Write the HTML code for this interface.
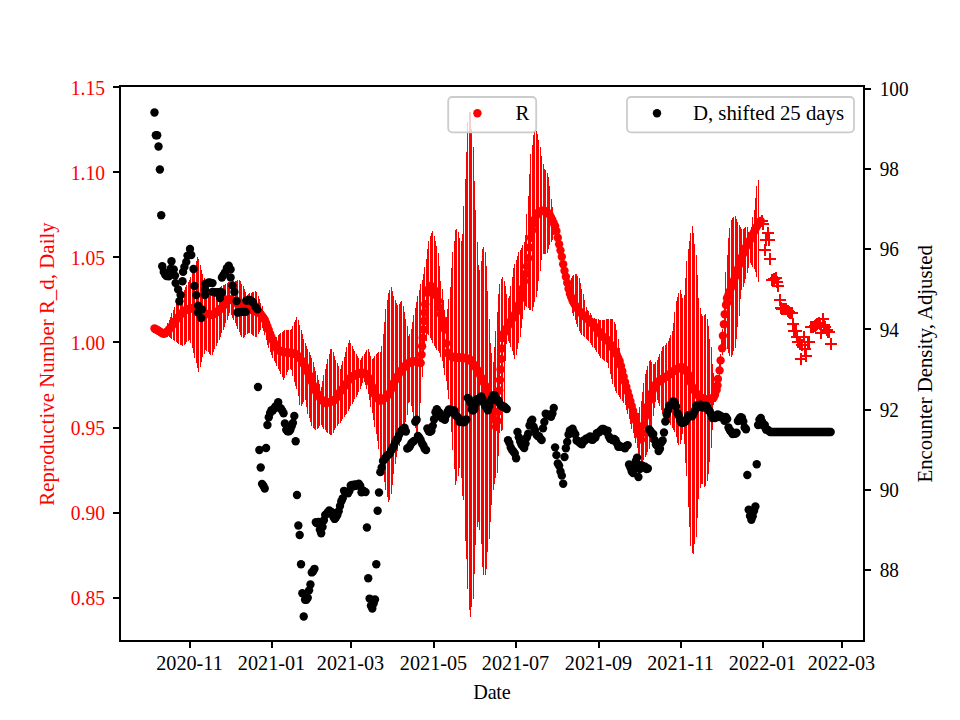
<!DOCTYPE html><html><head><meta charset="utf-8"><style>html,body{margin:0;padding:0;background:#fff;}svg{display:block;}text{font-family:"Liberation Serif",serif;font-size:20.2px;}</style></head><body>
<svg width="960" height="720" viewBox="0 0 960 720">
<rect width="960" height="720" fill="#fff"/>
<path d="M166.5 326.5V336.2M167.5 323.1V336.7M169.5 319.8V337.2M170.5 316.5V338.0M171.5 313.3V339.0M173.5 310.0V340.0M174.5 306.8V341.0M176.5 304.2V342.0M177.5 301.8V342.8M178.5 299.3V343.7M180.5 296.9V344.5M181.5 294.5V345.3M182.5 292.1V345.8M184.5 289.7V344.7M185.5 287.2V343.5M186.5 284.8V342.4M188.5 282.4V341.4M189.5 280.0V340.4M190.5 276.6V343.0M192.5 272.6V348.0M193.5 268.5V353.1M194.5 264.7V358.1M196.5 261.0V363.0M197.5 257.3V368.0M198.5 259.4V372.1M200.5 264.8V366.9M201.5 269.7V361.7M202.5 273.7V357.4M204.5 277.7V353.6M205.5 281.2V350.1M206.5 283.9V351.2M208.5 286.5V352.4M209.5 288.8V353.6M210.5 290.5V355.0M212.5 292.2V355.3M213.5 291.9V352.3M214.5 291.1V349.3M216.5 290.4V346.2M217.5 289.5V343.0M219.5 288.4V339.8M220.5 287.3V336.6M221.5 286.2V333.2M223.5 285.3V329.9M224.5 284.5V326.5M225.5 283.6V323.1M227.5 282.8V319.8M228.5 282.2V316.4M229.5 281.9V313.0M231.5 281.5V314.8M232.5 281.1V317.6M233.5 280.9V320.4M235.5 280.7V323.2M236.5 280.5V326.1M237.5 280.3V328.9M239.5 280.1V331.7M240.5 281.1V334.6M241.5 283.8V337.4M243.5 286.4V338.0M244.5 289.1V336.5M245.5 291.8V335.1M247.5 294.5V334.2M248.5 294.3V333.4M249.5 293.4V332.5M251.5 292.5V333.5M252.5 291.9V334.6M253.5 291.5V335.7M255.5 291.2V336.8M256.5 292.1V336.7M258.5 295.5V334.0M259.5 299.0V331.5M260.5 302.6V329.8M262.5 306.3V328.1M263.5 310.7V330.6M264.5 315.5V335.3M266.5 320.2V340.0M267.5 324.4V344.7M268.5 328.6V348.2M270.5 332.6V351.5M271.5 333.7V354.9M272.5 334.7V358.1M274.5 335.8V360.8M275.5 336.9V363.4M276.5 336.8V366.0M278.5 335.2V368.5M279.5 333.6V371.1M280.5 332.5V373.8M282.5 331.7V376.7M283.5 330.9V379.6M284.5 330.1V377.5M286.5 330.0V374.6M287.5 330.0V372.2M288.5 330.0V370.3M290.5 330.0V368.5M291.5 329.1V370.2M292.5 325.6V376.1M294.5 322.4V382.0M295.5 319.9V386.3M296.5 317.4V389.0M298.5 319.7V395.9M299.5 324.9V405.3M301.5 330.1V406.0M302.5 334.3V403.9M303.5 338.5V401.9M305.5 342.6V400.3M306.5 345.8V407.0M307.5 348.9V413.8M309.5 352.1V418.0M310.5 355.2V421.8M311.5 358.3V425.5M313.5 362.1V427.9M314.5 366.5V428.9M315.5 370.9V429.9M317.5 375.3V428.8M318.5 379.7V427.5M319.5 384.2V426.2M321.5 387.1V425.2M322.5 381.1V426.8M323.5 375.0V428.5M325.5 369.1V430.1M326.5 364.1V431.5M327.5 359.0V432.8M329.5 354.0V434.1M330.5 348.9V435.4M331.5 348.5V434.8M333.5 352.3V432.6M334.5 356.1V430.3M335.5 359.9V428.0M337.5 363.0V426.2M338.5 366.0V424.3M340.5 369.0V422.5M341.5 364.9V420.7M342.5 360.9V418.9M344.5 356.8V417.1M345.5 352.1V415.3M346.5 347.4V413.5M348.5 342.7V411.4M349.5 340.4V408.9M350.5 343.2V406.3M352.5 346.0V403.8M353.5 348.9V401.6M354.5 351.3V399.4M356.5 353.6V397.2M357.5 355.8V395.0M358.5 358.1V392.0M360.5 359.7V389.0M361.5 357.7V386.0M362.5 355.7V383.0M364.5 353.7V382.1M365.5 351.7V385.3M366.5 349.7V388.6M368.5 348.6V393.6M369.5 352.2V400.2M370.5 355.8V406.8M372.5 359.4V413.4M373.5 358.3V420.3M374.5 356.3V427.1M376.5 354.3V433.9M377.5 352.5V441.0M378.5 352.2V449.4M380.5 351.5V457.9M381.5 346.1V466.0M383.5 334.0V473.8M384.5 321.6V481.5M385.5 308.8V489.6M387.5 299.5V497.2M388.5 292.5V501.6M389.5 289.7V500.3M391.5 287.3V493.9M392.5 291.3V485.3M393.5 296.2V473.5M395.5 299.6V463.8M396.5 302.7V457.3M397.5 304.7V451.0M399.5 303.5V445.8M400.5 302.3V441.1M401.5 301.0V436.5M403.5 306.3V431.8M404.5 312.3V427.1M405.5 318.5V422.4M407.5 326.4V414.8M408.5 336.2V402.6M409.5 333.5V401.7M411.5 329.2V405.5M412.5 321.8V411.7M413.5 314.9V419.4M415.5 308.4V427.7M416.5 302.0V433.3M417.5 295.9V436.0M419.5 289.8V420.9M420.5 284.4V403.1M422.5 279.7V376.7M423.5 273.9V356.8M424.5 267.4V348.3M426.5 258.5V341.0M427.5 248.8V333.6M428.5 241.2V335.2M430.5 236.0V337.7M431.5 232.7V340.4M432.5 230.9V343.0M434.5 235.7V345.7M435.5 240.6V348.1M436.5 245.9V349.8M438.5 253.0V351.4M439.5 265.8V353.1M440.5 281.4V356.7M442.5 289.4V361.4M443.5 300.0V367.9M444.5 310.0V374.7M446.5 317.3V381.1M447.5 308.7V390.4M448.5 298.7V399.3M450.5 286.7V413.4M451.5 268.1V432.1M452.5 251.6V450.3M454.5 241.0V468.5M455.5 229.6V484.6M456.5 229.4V480.5M458.5 232.1V476.3M459.5 237.9V467.8M461.5 240.9V478.0M462.5 233.8V495.5M463.5 206.4V499.9M465.5 179.3V540.5M466.5 151.5V558.7M467.5 122.4V589.0M469.5 112.4V609.9M470.5 112.2V617.4M471.5 128.9V606.6M473.5 146.8V598.9M474.5 180.5V573.5M475.5 210.1V545.4M477.5 241.6V526.9M478.5 264.8V521.6M479.5 269.8V529.6M481.5 260.7V544.1M482.5 248.7V566.5M483.5 247.2V574.7M485.5 251.7V575.1M486.5 266.0V568.7M487.5 290.7V552.2M489.5 318.9V539.1M490.5 342.8V521.9M491.5 353.4V505.4M493.5 361.5V490.4M494.5 347.1V483.7M495.5 331.0V477.7M497.5 311.7V472.8M498.5 294.2V456.3M499.5 283.7V432.8M501.5 278.6V431.2M502.5 277.4V429.7M504.5 281.0V407.9M505.5 286.1V361.0M506.5 293.8V344.4M508.5 298.0V340.7M509.5 296.0V343.2M510.5 286.2V347.2M512.5 277.0V351.3M513.5 268.1V355.3M514.5 263.5V359.3M516.5 260.3V355.0M517.5 255.8V348.9M518.5 252.4V342.9M520.5 249.8V336.5M521.5 247.6V327.8M522.5 245.1V319.1M524.5 241.6V310.3M525.5 235.4V305.5M526.5 214.1V306.9M528.5 195.7V308.2M529.5 174.3V309.6M530.5 154.1V310.4M532.5 145.0V310.9M533.5 134.8V306.8M534.5 132.1V301.7M536.5 131.1V296.6M537.5 133.7V291.1M538.5 139.8V281.3M540.5 146.5V270.9M541.5 156.4V259.6M543.5 164.4V253.8M544.5 168.8V254.1M545.5 170.2V254.3M547.5 172.6V252.5M548.5 176.6V249.1M549.5 185.8V244.7M551.5 198.8V242.1M552.5 207.0V240.1M553.5 213.7V235.2M555.5 222.5V236.3M556.5 228.7V240.6M557.5 234.8V244.9M559.5 241.0V249.2M560.5 247.4V254.3M561.5 254.1V260.7M563.5 260.8V267.2M564.5 267.6V273.7M565.5 273.0V279.9M567.5 277.7V285.9M568.5 282.4V291.9M569.5 281.1V298.4M571.5 277.8V305.3M572.5 275.8V312.7M573.5 274.5V316.3M575.5 273.6V319.9M576.5 273.6V323.5M577.5 275.7V327.0M579.5 277.8V330.6M580.5 283.4V333.1M581.5 288.7V334.5M583.5 293.5V335.8M584.5 299.8V337.2M586.5 306.8V338.5M587.5 309.6V339.9M588.5 311.4V341.2M590.5 313.3V342.6M591.5 315.3V344.5M592.5 317.6V346.5M594.5 318.0V348.4M595.5 318.5V350.4M596.5 318.9V352.3M598.5 319.4V354.3M599.5 319.8V356.2M600.5 319.9V357.6M602.5 319.8V358.7M603.5 319.7V359.8M604.5 319.5V360.9M606.5 319.4V361.9M607.5 319.2V363.1M608.5 319.1V368.4M610.5 319.0V373.6M611.5 318.8V378.8M612.5 319.4V383.6M614.5 321.7V387.2M615.5 323.9V390.8M616.5 329.6V393.4M618.5 338.6V395.2M619.5 347.5V397.0M620.5 354.4V399.0M622.5 360.4V401.0M623.5 366.5V403.0M625.5 372.5V405.0M626.5 377.4V409.7M627.5 382.4V414.4M629.5 387.3V419.1M630.5 392.2V423.8M631.5 397.2V428.5M633.5 402.0V433.2M634.5 406.7V438.0M635.5 411.4V443.0M637.5 416.1V448.4M638.5 413.1V453.8M639.5 406.8V459.2M641.5 400.5V464.5M642.5 391.8V462.5M643.5 382.8V459.8M645.5 374.4V457.2M646.5 370.1V454.5M647.5 365.7V451.8M649.5 361.3V449.1M650.5 359.7V441.5M651.5 361.9V426.7M653.5 364.1V415.6M654.5 363.9V407.5M655.5 362.1V402.0M657.5 360.3V399.6M658.5 357.2V402.8M659.5 353.9V405.9M661.5 350.5V410.0M662.5 347.4V414.0M663.5 346.0V416.2M665.5 344.7V418.5M666.5 343.3V420.5M668.5 341.2V421.9M669.5 337.8V423.3M670.5 334.5V425.2M672.5 331.1V427.5M673.5 322.8V429.8M674.5 312.0V432.1M676.5 301.3V437.1M677.5 296.8V443.0M678.5 293.3V445.2M680.5 290.3V443.6M681.5 293.9V439.8M682.5 297.5V434.3M684.5 294.9V443.6M685.5 277.9V462.7M686.5 260.8V475.8M688.5 248.5V506.7M689.5 240.7V527.3M690.5 233.3V546.4M692.5 226.0V552.8M693.5 232.7V553.7M694.5 243.5V544.4M696.5 255.0V536.7M697.5 275.4V518.4M698.5 297.9V499.0M700.5 308.1V487.9M701.5 313.7V483.9M702.5 316.4V484.3M704.5 314.7V487.1M705.5 314.0V485.7M707.5 318.5V480.8M708.5 325.5V473.8M709.5 338.7V462.2M711.5 347.3V448.1M712.5 363.8V430.0M713.5 373.0V405.4M715.5 380.3V402.1M721.5 331.9V345.0M723.5 339.8V351.3M724.5 308.3V351.3M725.5 272.0V350.0M727.5 255.0V348.6M728.5 238.0V352.5M729.5 228.3V356.0M731.5 220.3V357.1M732.5 218.3V354.8M733.5 216.5V351.1M735.5 215.6V347.8M736.5 218.7V339.0M737.5 221.8V327.2M739.5 224.6V315.9M740.5 226.9V299.1M741.5 229.1V289.8M743.5 229.2V286.5M744.5 227.9V283.3M745.5 227.2V278.5M747.5 227.2V273.2M748.5 232.0V267.8M750.5 230.9V262.5M751.5 226.6V264.6M752.5 216.9V266.6M754.5 210.1V268.6M755.5 198.1V271.5M756.5 185.6V276.7M758.5 180.2V281.9M719.5 364.0V377.0M720.5 354.0V367.0M722.5 342.0V355.0M722.5 329.0V342.0" stroke="#f00" stroke-width="1" fill="none" shape-rendering="crispEdges"/>
<g fill="#f00"><circle cx="154.50" cy="328.44" r="4.2"/><circle cx="155.84" cy="329.23" r="4.2"/><circle cx="157.19" cy="330.02" r="4.2"/><circle cx="158.53" cy="330.82" r="4.2"/><circle cx="159.88" cy="331.64" r="4.2"/><circle cx="161.22" cy="332.46" r="4.2"/><circle cx="162.57" cy="333.28" r="4.2"/><circle cx="163.91" cy="333.89" r="4.2"/><circle cx="165.25" cy="332.94" r="4.2"/><circle cx="166.60" cy="331.99" r="4.2"/><circle cx="167.94" cy="331.04" r="4.2"/><circle cx="169.29" cy="329.28" r="4.2"/><circle cx="170.63" cy="327.49" r="4.2"/><circle cx="171.98" cy="325.70" r="4.2"/><circle cx="173.32" cy="323.83" r="4.2"/><circle cx="174.66" cy="321.91" r="4.2"/><circle cx="176.01" cy="319.99" r="4.2"/><circle cx="177.35" cy="318.31" r="4.2"/><circle cx="178.70" cy="316.63" r="4.2"/><circle cx="180.04" cy="314.96" r="4.2"/><circle cx="181.39" cy="313.75" r="4.2"/><circle cx="182.73" cy="312.54" r="4.2"/><circle cx="184.07" cy="311.33" r="4.2"/><circle cx="185.42" cy="310.33" r="4.2"/><circle cx="186.76" cy="309.79" r="4.2"/><circle cx="188.11" cy="309.26" r="4.2"/><circle cx="189.45" cy="308.72" r="4.2"/><circle cx="190.80" cy="308.42" r="4.2"/><circle cx="192.14" cy="308.29" r="4.2"/><circle cx="193.48" cy="308.15" r="4.2"/><circle cx="194.83" cy="308.02" r="4.2"/><circle cx="196.17" cy="308.70" r="4.2"/><circle cx="197.52" cy="309.51" r="4.2"/><circle cx="198.86" cy="310.32" r="4.2"/><circle cx="200.21" cy="311.10" r="4.2"/><circle cx="201.55" cy="311.78" r="4.2"/><circle cx="202.89" cy="312.45" r="4.2"/><circle cx="204.24" cy="313.12" r="4.2"/><circle cx="205.58" cy="313.62" r="4.2"/><circle cx="206.93" cy="313.89" r="4.2"/><circle cx="208.27" cy="314.15" r="4.2"/><circle cx="209.62" cy="314.42" r="4.2"/><circle cx="210.96" cy="314.69" r="4.2"/><circle cx="212.30" cy="314.96" r="4.2"/><circle cx="213.65" cy="314.23" r="4.2"/><circle cx="214.99" cy="313.34" r="4.2"/><circle cx="216.34" cy="312.44" r="4.2"/><circle cx="217.68" cy="311.38" r="4.2"/><circle cx="219.03" cy="310.16" r="4.2"/><circle cx="220.37" cy="308.94" r="4.2"/><circle cx="221.72" cy="307.71" r="4.2"/><circle cx="223.06" cy="306.19" r="4.2"/><circle cx="224.40" cy="304.23" r="4.2"/><circle cx="225.75" cy="302.28" r="4.2"/><circle cx="227.09" cy="300.32" r="4.2"/><circle cx="228.44" cy="299.11" r="4.2"/><circle cx="229.78" cy="299.45" r="4.2"/><circle cx="231.13" cy="299.78" r="4.2"/><circle cx="232.47" cy="300.31" r="4.2"/><circle cx="233.81" cy="301.21" r="4.2"/><circle cx="235.16" cy="302.11" r="4.2"/><circle cx="236.50" cy="303.00" r="4.2"/><circle cx="237.85" cy="303.90" r="4.2"/><circle cx="239.19" cy="304.60" r="4.2"/><circle cx="240.54" cy="305.27" r="4.2"/><circle cx="241.88" cy="305.94" r="4.2"/><circle cx="243.22" cy="306.61" r="4.2"/><circle cx="244.57" cy="307.28" r="4.2"/><circle cx="245.91" cy="307.83" r="4.2"/><circle cx="247.26" cy="308.31" r="4.2"/><circle cx="248.60" cy="308.79" r="4.2"/><circle cx="249.95" cy="309.27" r="4.2"/><circle cx="251.29" cy="309.75" r="4.2"/><circle cx="252.63" cy="310.24" r="4.2"/><circle cx="253.98" cy="310.74" r="4.2"/><circle cx="255.32" cy="311.25" r="4.2"/><circle cx="256.67" cy="311.75" r="4.2"/><circle cx="258.01" cy="312.25" r="4.2"/><circle cx="259.36" cy="312.76" r="4.2"/><circle cx="260.70" cy="313.98" r="4.2"/><circle cx="262.04" cy="315.86" r="4.2"/><circle cx="263.39" cy="317.74" r="4.2"/><circle cx="264.73" cy="319.63" r="4.2"/><circle cx="266.08" cy="322.87" r="4.2"/><circle cx="267.42" cy="326.46" r="4.2"/><circle cx="268.77" cy="330.04" r="4.2"/><circle cx="270.11" cy="333.63" r="4.2"/><circle cx="271.45" cy="337.21" r="4.2"/><circle cx="272.80" cy="340.60" r="4.2"/><circle cx="274.14" cy="343.29" r="4.2"/><circle cx="275.49" cy="345.97" r="4.2"/><circle cx="276.83" cy="348.66" r="4.2"/><circle cx="278.18" cy="350.21" r="4.2"/><circle cx="279.52" cy="350.62" r="4.2"/><circle cx="280.86" cy="351.04" r="4.2"/><circle cx="282.21" cy="351.45" r="4.2"/><circle cx="283.55" cy="351.86" r="4.2"/><circle cx="284.90" cy="352.15" r="4.2"/><circle cx="286.24" cy="352.37" r="4.2"/><circle cx="287.59" cy="352.60" r="4.2"/><circle cx="288.93" cy="352.82" r="4.2"/><circle cx="290.27" cy="353.05" r="4.2"/><circle cx="291.62" cy="353.27" r="4.2"/><circle cx="292.96" cy="353.49" r="4.2"/><circle cx="294.31" cy="353.72" r="4.2"/><circle cx="295.65" cy="353.94" r="4.2"/><circle cx="297.00" cy="355.00" r="4.2"/><circle cx="298.34" cy="356.34" r="4.2"/><circle cx="299.68" cy="357.68" r="4.2"/><circle cx="301.03" cy="359.65" r="4.2"/><circle cx="302.37" cy="361.80" r="4.2"/><circle cx="303.72" cy="363.95" r="4.2"/><circle cx="305.06" cy="366.14" r="4.2"/><circle cx="306.41" cy="369.09" r="4.2"/><circle cx="307.75" cy="372.05" r="4.2"/><circle cx="309.09" cy="375.01" r="4.2"/><circle cx="310.44" cy="378.14" r="4.2"/><circle cx="311.78" cy="381.64" r="4.2"/><circle cx="313.13" cy="385.13" r="4.2"/><circle cx="314.47" cy="388.63" r="4.2"/><circle cx="315.82" cy="391.31" r="4.2"/><circle cx="317.16" cy="393.46" r="4.2"/><circle cx="318.50" cy="395.61" r="4.2"/><circle cx="319.85" cy="397.76" r="4.2"/><circle cx="321.19" cy="399.19" r="4.2"/><circle cx="322.54" cy="400.54" r="4.2"/><circle cx="323.88" cy="401.88" r="4.2"/><circle cx="325.23" cy="402.95" r="4.2"/><circle cx="326.57" cy="402.69" r="4.2"/><circle cx="327.91" cy="402.42" r="4.2"/><circle cx="329.26" cy="402.15" r="4.2"/><circle cx="330.60" cy="401.76" r="4.2"/><circle cx="331.95" cy="401.22" r="4.2"/><circle cx="333.29" cy="400.68" r="4.2"/><circle cx="334.64" cy="400.15" r="4.2"/><circle cx="335.98" cy="398.43" r="4.2"/><circle cx="337.32" cy="396.28" r="4.2"/><circle cx="338.67" cy="394.13" r="4.2"/><circle cx="340.01" cy="391.98" r="4.2"/><circle cx="341.36" cy="390.37" r="4.2"/><circle cx="342.70" cy="388.76" r="4.2"/><circle cx="344.05" cy="387.14" r="4.2"/><circle cx="345.39" cy="385.38" r="4.2"/><circle cx="346.73" cy="383.22" r="4.2"/><circle cx="348.08" cy="381.07" r="4.2"/><circle cx="349.42" cy="378.92" r="4.2"/><circle cx="350.77" cy="377.54" r="4.2"/><circle cx="352.11" cy="376.73" r="4.2"/><circle cx="353.46" cy="375.93" r="4.2"/><circle cx="354.80" cy="375.12" r="4.2"/><circle cx="356.14" cy="374.54" r="4.2"/><circle cx="357.49" cy="374.00" r="4.2"/><circle cx="358.83" cy="373.47" r="4.2"/><circle cx="360.18" cy="373.00" r="4.2"/><circle cx="361.52" cy="373.00" r="4.2"/><circle cx="362.87" cy="373.00" r="4.2"/><circle cx="364.21" cy="373.00" r="4.2"/><circle cx="365.56" cy="373.78" r="4.2"/><circle cx="366.90" cy="375.66" r="4.2"/><circle cx="368.24" cy="377.54" r="4.2"/><circle cx="369.59" cy="379.42" r="4.2"/><circle cx="370.93" cy="382.80" r="4.2"/><circle cx="372.28" cy="386.83" r="4.2"/><circle cx="373.62" cy="390.86" r="4.2"/><circle cx="374.97" cy="394.90" r="4.2"/><circle cx="376.31" cy="396.57" r="4.2"/><circle cx="377.65" cy="398.18" r="4.2"/><circle cx="379.00" cy="399.80" r="4.2"/><circle cx="380.34" cy="400.79" r="4.2"/><circle cx="381.69" cy="399.99" r="4.2"/><circle cx="383.03" cy="399.18" r="4.2"/><circle cx="384.38" cy="398.37" r="4.2"/><circle cx="385.72" cy="397.28" r="4.2"/><circle cx="387.06" cy="395.94" r="4.2"/><circle cx="388.41" cy="394.59" r="4.2"/><circle cx="389.75" cy="393.25" r="4.2"/><circle cx="391.10" cy="389.49" r="4.2"/><circle cx="392.44" cy="385.19" r="4.2"/><circle cx="393.79" cy="382.77" r="4.2"/><circle cx="395.13" cy="380.44" r="4.2"/><circle cx="396.47" cy="378.11" r="4.2"/><circle cx="397.82" cy="375.78" r="4.2"/><circle cx="399.16" cy="373.45" r="4.2"/><circle cx="400.51" cy="371.39" r="4.2"/><circle cx="401.85" cy="369.78" r="4.2"/><circle cx="403.20" cy="368.17" r="4.2"/><circle cx="404.54" cy="366.55" r="4.2"/><circle cx="405.88" cy="365.29" r="4.2"/><circle cx="407.23" cy="364.22" r="4.2"/><circle cx="408.57" cy="363.14" r="4.2"/><circle cx="409.92" cy="362.07" r="4.2"/><circle cx="411.26" cy="361.79" r="4.2"/><circle cx="412.61" cy="361.57" r="4.2"/><circle cx="413.95" cy="361.34" r="4.2"/><circle cx="415.29" cy="361.12" r="4.2"/><circle cx="416.64" cy="361.27" r="4.2"/><circle cx="417.98" cy="361.83" r="4.2"/><circle cx="419.33" cy="362.39" r="4.2"/><circle cx="420.67" cy="362.95" r="4.2"/><circle cx="427.39" cy="292.79" r="4.2"/><circle cx="428.74" cy="289.16" r="4.2"/><circle cx="430.08" cy="286.03" r="4.2"/><circle cx="431.43" cy="286.48" r="4.2"/><circle cx="432.77" cy="286.92" r="4.2"/><circle cx="434.11" cy="289.72" r="4.2"/><circle cx="435.46" cy="293.01" r="4.2"/><circle cx="436.80" cy="296.30" r="4.2"/><circle cx="438.15" cy="301.14" r="4.2"/><circle cx="439.49" cy="307.67" r="4.2"/><circle cx="440.84" cy="314.20" r="4.2"/><circle cx="442.18" cy="319.43" r="4.2"/><circle cx="443.52" cy="324.47" r="4.2"/><circle cx="444.87" cy="329.51" r="4.2"/><circle cx="446.21" cy="343.34" r="4.2"/><circle cx="447.56" cy="352.74" r="4.2"/><circle cx="448.90" cy="354.54" r="4.2"/><circle cx="450.25" cy="356.07" r="4.2"/><circle cx="451.59" cy="356.48" r="4.2"/><circle cx="452.93" cy="356.88" r="4.2"/><circle cx="454.28" cy="357.28" r="4.2"/><circle cx="455.62" cy="357.50" r="4.2"/><circle cx="456.97" cy="357.50" r="4.2"/><circle cx="458.31" cy="357.50" r="4.2"/><circle cx="459.66" cy="357.50" r="4.2"/><circle cx="461.00" cy="357.60" r="4.2"/><circle cx="462.34" cy="357.73" r="4.2"/><circle cx="463.69" cy="357.87" r="4.2"/><circle cx="465.03" cy="358.01" r="4.2"/><circle cx="466.38" cy="358.41" r="4.2"/><circle cx="467.72" cy="358.82" r="4.2"/><circle cx="469.07" cy="359.22" r="4.2"/><circle cx="470.41" cy="360.07" r="4.2"/><circle cx="471.75" cy="361.96" r="4.2"/><circle cx="473.10" cy="363.84" r="4.2"/><circle cx="474.44" cy="365.72" r="4.2"/><circle cx="475.79" cy="367.60" r="4.2"/><circle cx="477.13" cy="369.48" r="4.2"/><circle cx="478.48" cy="371.95" r="4.2"/><circle cx="479.82" cy="374.64" r="4.2"/><circle cx="481.16" cy="377.33" r="4.2"/><circle cx="482.51" cy="380.02" r="4.2"/><circle cx="483.85" cy="382.71" r="4.2"/><circle cx="485.20" cy="385.59" r="4.2"/><circle cx="486.54" cy="389.63" r="4.2"/><circle cx="487.89" cy="393.66" r="4.2"/><circle cx="489.23" cy="397.69" r="4.2"/><circle cx="490.57" cy="402.30" r="4.2"/><circle cx="491.92" cy="407.68" r="4.2"/><circle cx="493.26" cy="413.32" r="4.2"/><circle cx="494.61" cy="420.04" r="4.2"/><circle cx="495.95" cy="426.76" r="4.2"/><circle cx="504.02" cy="332.96" r="4.2"/><circle cx="505.36" cy="330.38" r="4.2"/><circle cx="506.71" cy="328.10" r="4.2"/><circle cx="508.05" cy="325.81" r="4.2"/><circle cx="509.40" cy="323.53" r="4.2"/><circle cx="510.74" cy="321.27" r="4.2"/><circle cx="512.08" cy="319.03" r="4.2"/><circle cx="513.43" cy="316.79" r="4.2"/><circle cx="514.77" cy="314.55" r="4.2"/><circle cx="516.12" cy="312.31" r="4.2"/><circle cx="517.46" cy="310.06" r="4.2"/><circle cx="518.81" cy="304.78" r="4.2"/><circle cx="520.15" cy="299.40" r="4.2"/><circle cx="521.49" cy="294.02" r="4.2"/><circle cx="522.84" cy="288.24" r="4.2"/><circle cx="524.18" cy="281.25" r="4.2"/><circle cx="525.53" cy="274.01" r="4.2"/><circle cx="526.87" cy="266.40" r="4.2"/><circle cx="528.22" cy="258.28" r="4.2"/><circle cx="529.56" cy="247.52" r="4.2"/><circle cx="530.90" cy="237.74" r="4.2"/><circle cx="532.25" cy="230.21" r="4.2"/><circle cx="533.59" cy="223.87" r="4.2"/><circle cx="534.94" cy="219.03" r="4.2"/><circle cx="536.28" cy="215.59" r="4.2"/><circle cx="537.63" cy="213.17" r="4.2"/><circle cx="538.97" cy="212.02" r="4.2"/><circle cx="540.31" cy="211.42" r="4.2"/><circle cx="541.66" cy="211.06" r="4.2"/><circle cx="543.00" cy="210.70" r="4.2"/><circle cx="544.35" cy="210.78" r="4.2"/><circle cx="545.69" cy="211.40" r="4.2"/><circle cx="547.04" cy="212.04" r="4.2"/><circle cx="548.38" cy="213.38" r="4.2"/><circle cx="549.72" cy="214.72" r="4.2"/><circle cx="551.07" cy="217.35" r="4.2"/><circle cx="552.41" cy="220.31" r="4.2"/><circle cx="553.76" cy="223.27" r="4.2"/><circle cx="555.10" cy="226.32" r="4.2"/><circle cx="556.45" cy="230.98" r="4.2"/><circle cx="557.79" cy="237.70" r="4.2"/><circle cx="559.13" cy="244.25" r="4.2"/><circle cx="560.48" cy="250.36" r="4.2"/><circle cx="561.82" cy="256.79" r="4.2"/><circle cx="563.17" cy="264.26" r="4.2"/><circle cx="564.51" cy="270.84" r="4.2"/><circle cx="565.86" cy="276.74" r="4.2"/><circle cx="567.20" cy="282.68" r="4.2"/><circle cx="568.54" cy="288.68" r="4.2"/><circle cx="569.89" cy="293.75" r="4.2"/><circle cx="571.23" cy="297.21" r="4.2"/><circle cx="572.58" cy="300.66" r="4.2"/><circle cx="573.92" cy="303.31" r="4.2"/><circle cx="575.27" cy="305.45" r="4.2"/><circle cx="576.61" cy="307.58" r="4.2"/><circle cx="577.95" cy="309.51" r="4.2"/><circle cx="579.30" cy="311.00" r="4.2"/><circle cx="580.64" cy="312.49" r="4.2"/><circle cx="581.99" cy="313.99" r="4.2"/><circle cx="583.33" cy="315.21" r="4.2"/><circle cx="584.68" cy="316.43" r="4.2"/><circle cx="586.02" cy="317.65" r="4.2"/><circle cx="587.36" cy="318.88" r="4.2"/><circle cx="588.71" cy="320.07" r="4.2"/><circle cx="590.05" cy="321.27" r="4.2"/><circle cx="591.40" cy="322.46" r="4.2"/><circle cx="592.74" cy="323.94" r="4.2"/><circle cx="594.09" cy="325.66" r="4.2"/><circle cx="595.43" cy="327.37" r="4.2"/><circle cx="596.77" cy="329.08" r="4.2"/><circle cx="598.12" cy="330.83" r="4.2"/><circle cx="599.46" cy="332.62" r="4.2"/><circle cx="600.81" cy="334.41" r="4.2"/><circle cx="602.15" cy="336.11" r="4.2"/><circle cx="603.50" cy="337.09" r="4.2"/><circle cx="604.84" cy="338.07" r="4.2"/><circle cx="606.18" cy="339.04" r="4.2"/><circle cx="607.53" cy="340.05" r="4.2"/><circle cx="608.87" cy="342.14" r="4.2"/><circle cx="610.22" cy="344.23" r="4.2"/><circle cx="611.56" cy="346.32" r="4.2"/><circle cx="612.91" cy="348.36" r="4.2"/><circle cx="614.25" cy="350.38" r="4.2"/><circle cx="615.59" cy="352.39" r="4.2"/><circle cx="616.94" cy="355.11" r="4.2"/><circle cx="618.28" cy="358.14" r="4.2"/><circle cx="619.63" cy="361.16" r="4.2"/><circle cx="620.97" cy="365.89" r="4.2"/><circle cx="622.32" cy="371.27" r="4.2"/><circle cx="623.66" cy="376.64" r="4.2"/><circle cx="625.00" cy="382.02" r="4.2"/><circle cx="626.35" cy="386.86" r="4.2"/><circle cx="627.69" cy="391.70" r="4.2"/><circle cx="629.04" cy="396.54" r="4.2"/><circle cx="630.38" cy="401.34" r="4.2"/><circle cx="631.73" cy="406.04" r="4.2"/><circle cx="633.07" cy="410.75" r="4.2"/><circle cx="634.42" cy="415.45" r="4.2"/><circle cx="635.76" cy="420.66" r="4.2"/><circle cx="637.10" cy="426.27" r="4.2"/><circle cx="638.45" cy="431.38" r="4.2"/><circle cx="639.79" cy="435.51" r="4.2"/><circle cx="641.14" cy="439.65" r="4.2"/><circle cx="642.48" cy="432.97" r="4.2"/><circle cx="643.83" cy="424.84" r="4.2"/><circle cx="645.17" cy="416.82" r="4.2"/><circle cx="646.51" cy="411.44" r="4.2"/><circle cx="647.86" cy="406.07" r="4.2"/><circle cx="649.20" cy="400.69" r="4.2"/><circle cx="650.55" cy="396.13" r="4.2"/><circle cx="651.89" cy="392.77" r="4.2"/><circle cx="653.24" cy="389.41" r="4.2"/><circle cx="654.58" cy="386.05" r="4.2"/><circle cx="655.92" cy="384.08" r="4.2"/><circle cx="657.27" cy="382.73" r="4.2"/><circle cx="658.61" cy="381.39" r="4.2"/><circle cx="659.96" cy="380.04" r="4.2"/><circle cx="661.30" cy="379.35" r="4.2"/><circle cx="662.65" cy="378.68" r="4.2"/><circle cx="663.99" cy="378.01" r="4.2"/><circle cx="665.33" cy="377.27" r="4.2"/><circle cx="666.68" cy="376.33" r="4.2"/><circle cx="668.02" cy="375.38" r="4.2"/><circle cx="669.37" cy="374.44" r="4.2"/><circle cx="670.71" cy="373.43" r="4.2"/><circle cx="672.06" cy="372.36" r="4.2"/><circle cx="673.40" cy="371.28" r="4.2"/><circle cx="674.74" cy="370.20" r="4.2"/><circle cx="676.09" cy="369.46" r="4.2"/><circle cx="677.43" cy="368.78" r="4.2"/><circle cx="678.78" cy="368.11" r="4.2"/><circle cx="680.12" cy="367.50" r="4.2"/><circle cx="681.47" cy="367.50" r="4.2"/><circle cx="682.81" cy="367.50" r="4.2"/><circle cx="684.15" cy="368.78" r="4.2"/><circle cx="685.50" cy="370.28" r="4.2"/><circle cx="686.84" cy="371.77" r="4.2"/><circle cx="688.19" cy="374.56" r="4.2"/><circle cx="689.53" cy="378.59" r="4.2"/><circle cx="690.88" cy="382.63" r="4.2"/><circle cx="692.22" cy="386.66" r="4.2"/><circle cx="693.56" cy="389.17" r="4.2"/><circle cx="694.91" cy="391.28" r="4.2"/><circle cx="696.25" cy="393.28" r="4.2"/><circle cx="697.60" cy="394.80" r="4.2"/><circle cx="698.94" cy="396.31" r="4.2"/><circle cx="700.29" cy="397.60" r="4.2"/><circle cx="701.63" cy="398.04" r="4.2"/><circle cx="702.97" cy="398.49" r="4.2"/><circle cx="704.32" cy="398.94" r="4.2"/><circle cx="705.66" cy="399.39" r="4.2"/><circle cx="707.01" cy="399.84" r="4.2"/><circle cx="708.35" cy="399.76" r="4.2"/><circle cx="709.70" cy="399.37" r="4.2"/><circle cx="711.04" cy="398.98" r="4.2"/><circle cx="712.38" cy="398.24" r="4.2"/><circle cx="713.73" cy="397.51" r="4.2"/><circle cx="715.07" cy="394.85" r="4.2"/><circle cx="727.17" cy="302.69" r="4.2"/><circle cx="728.52" cy="294.62" r="4.2"/><circle cx="729.86" cy="291.04" r="4.2"/><circle cx="731.20" cy="287.46" r="4.2"/><circle cx="732.55" cy="283.93" r="4.2"/><circle cx="733.89" cy="280.41" r="4.2"/><circle cx="735.24" cy="276.79" r="4.2"/><circle cx="736.58" cy="272.75" r="4.2"/><circle cx="737.93" cy="268.72" r="4.2"/><circle cx="739.27" cy="264.69" r="4.2"/><circle cx="740.61" cy="260.66" r="4.2"/><circle cx="741.96" cy="256.62" r="4.2"/><circle cx="743.30" cy="253.16" r="4.2"/><circle cx="744.65" cy="250.09" r="4.2"/><circle cx="745.99" cy="247.02" r="4.2"/><circle cx="747.34" cy="244.66" r="4.2"/><circle cx="748.68" cy="242.31" r="4.2"/><circle cx="750.02" cy="239.95" r="4.2"/><circle cx="751.37" cy="237.26" r="4.2"/><circle cx="752.71" cy="234.57" r="4.2"/><circle cx="754.06" cy="231.88" r="4.2"/><circle cx="755.40" cy="229.20" r="4.2"/><circle cx="756.75" cy="226.64" r="4.2"/><circle cx="758.09" cy="224.31" r="4.2"/><circle cx="759.44" cy="221.98" r="4.2"/><circle cx="760.78" cy="221.00" r="4.2"/><circle cx="502.20" cy="338.00" r="4.2"/><circle cx="501.60" cy="348.50" r="4.2"/><circle cx="501.00" cy="359.00" r="4.2"/><circle cx="500.50" cy="369.50" r="4.2"/><circle cx="499.90" cy="380.00" r="4.2"/><circle cx="499.30" cy="390.50" r="4.2"/><circle cx="498.80" cy="401.00" r="4.2"/><circle cx="498.20" cy="411.50" r="4.2"/><circle cx="497.60" cy="421.00" r="4.2"/><circle cx="421.60" cy="354.60" r="4.2"/><circle cx="422.10" cy="346.20" r="4.2"/><circle cx="422.70" cy="337.80" r="4.2"/><circle cx="423.30" cy="329.40" r="4.2"/><circle cx="423.90" cy="321.00" r="4.2"/><circle cx="424.50" cy="312.60" r="4.2"/><circle cx="425.20" cy="304.20" r="4.2"/><circle cx="716.70" cy="390.00" r="4.2"/><circle cx="717.50" cy="385.40" r="4.2"/><circle cx="717.90" cy="379.00" r="4.2"/><circle cx="719.60" cy="370.40" r="4.2"/><circle cx="720.60" cy="360.40" r="4.2"/><circle cx="722.20" cy="348.30" r="4.2"/><circle cx="722.90" cy="335.80" r="4.2"/><circle cx="723.90" cy="324.20" r="4.2"/><circle cx="724.70" cy="314.20" r="4.2"/><circle cx="726.00" cy="305.00" r="4.2"/><circle cx="727.00" cy="298.30" r="4.2"/></g>
<path d="M756 221H768M762 215V227M757 224H769M763 218V230M759 250H771M765 244V256M760 240H772M766 234V246M762 233H774M768 227V239M763 240H775M769 234V246M764 259H776M770 253V265M766 280H778M772 274V286M767 280H779M773 274V286M768 279H780M774 273V285M770 278H782M776 272V284M771 282H783M777 276V288M772 286H784M778 280V292M774 300H786M780 294V306M775 308H787M781 302V314M776 309H788M782 303V315M778 309H790M784 303V315M779 309H791M785 303V315M780 309H792M786 303V315M782 311H794M788 305V317M783 312H795M789 306V318M784 313H796M790 307V319M786 313H798M792 307V319M787 324H799M793 318V330M788 331H800M794 325V337M790 331H802M796 325V337M791 337H803M797 331V343M792 342H804M798 336V348M794 342H806M800 336V348M795 359H807M801 353V365M796 345H808M802 339V351M798 337H810M804 331V343M799 349H811M805 343V355M800 356H812M806 350V362M802 342H814M808 336V348M803 342H815M809 336V348M805 327H817M811 321V333M806 327H818M812 321V333M807 327H819M813 321V333M809 326H821M815 320V332M810 325H822M816 319V331M811 324H823M817 318V330M813 323H825M819 317V329M814 324H826M820 318V330M815 333H827M821 327V339M817 319H829M823 313V325M818 325H830M824 319V331M819 327H831M825 321V333M821 330H833M827 324V336M822 332H834M828 326V338M823 332H835M829 326V338M825 344H837M831 338V350" stroke="#f00" stroke-width="2" fill="none" shape-rendering="crispEdges"/>
<g fill="#000"><circle cx="162.25" cy="266.25" r="4.2"/><circle cx="163.75" cy="271.90" r="4.2"/><circle cx="165.10" cy="274.50" r="4.2"/><circle cx="166.50" cy="276.00" r="4.2"/><circle cx="168.75" cy="276.25" r="4.2"/><circle cx="170.60" cy="268.75" r="4.2"/><circle cx="171.50" cy="261.25" r="4.2"/><circle cx="173.75" cy="269.40" r="4.2"/><circle cx="175.00" cy="275.60" r="4.2"/><circle cx="175.60" cy="283.10" r="4.2"/><circle cx="178.10" cy="289.40" r="4.2"/><circle cx="180.60" cy="295.00" r="4.2"/><circle cx="179.40" cy="301.25" r="4.2"/><circle cx="182.50" cy="281.25" r="4.2"/><circle cx="183.10" cy="271.90" r="4.2"/><circle cx="184.40" cy="266.90" r="4.2"/><circle cx="186.25" cy="261.90" r="4.2"/><circle cx="187.50" cy="255.60" r="4.2"/><circle cx="191.25" cy="255.00" r="4.2"/><circle cx="190.00" cy="249.00" r="4.2"/><circle cx="193.50" cy="269.00" r="4.2"/><circle cx="194.40" cy="286.00" r="4.2"/><circle cx="196.25" cy="295.00" r="4.2"/><circle cx="198.10" cy="305.60" r="4.2"/><circle cx="201.90" cy="309.40" r="4.2"/><circle cx="198.10" cy="312.50" r="4.2"/><circle cx="201.25" cy="318.10" r="4.2"/><circle cx="205.00" cy="295.00" r="4.2"/><circle cx="205.00" cy="289.40" r="4.2"/><circle cx="205.60" cy="283.75" r="4.2"/><circle cx="208.75" cy="282.50" r="4.2"/><circle cx="210.50" cy="282.80" r="4.2"/><circle cx="212.50" cy="283.10" r="4.2"/><circle cx="212.50" cy="291.90" r="4.2"/><circle cx="214.50" cy="292.20" r="4.2"/><circle cx="216.25" cy="292.50" r="4.2"/><circle cx="218.00" cy="292.20" r="4.2"/><circle cx="220.00" cy="291.90" r="4.2"/><circle cx="221.90" cy="292.50" r="4.2"/><circle cx="220.00" cy="298.10" r="4.2"/><circle cx="221.90" cy="277.50" r="4.2"/><circle cx="223.50" cy="275.00" r="4.2"/><circle cx="225.00" cy="272.50" r="4.2"/><circle cx="226.90" cy="268.10" r="4.2"/><circle cx="228.75" cy="265.60" r="4.2"/><circle cx="230.60" cy="269.40" r="4.2"/><circle cx="230.60" cy="277.50" r="4.2"/><circle cx="232.50" cy="285.60" r="4.2"/><circle cx="234.40" cy="291.90" r="4.2"/><circle cx="236.60" cy="301.00" r="4.2"/><circle cx="237.50" cy="312.50" r="4.2"/><circle cx="239.50" cy="312.20" r="4.2"/><circle cx="241.25" cy="311.90" r="4.2"/><circle cx="243.50" cy="311.90" r="4.2"/><circle cx="245.60" cy="311.90" r="4.2"/><circle cx="246.25" cy="300.60" r="4.2"/><circle cx="248.00" cy="300.30" r="4.2"/><circle cx="250.00" cy="300.00" r="4.2"/><circle cx="251.50" cy="301.00" r="4.2"/><circle cx="253.10" cy="302.50" r="4.2"/><circle cx="255.60" cy="306.90" r="4.2"/><circle cx="257.50" cy="309.40" r="4.2"/><circle cx="154.50" cy="112.50" r="4.2"/><circle cx="155.84" cy="135.30" r="4.2"/><circle cx="157.19" cy="135.30" r="4.2"/><circle cx="158.53" cy="146.50" r="4.2"/><circle cx="159.88" cy="169.50" r="4.2"/><circle cx="161.22" cy="215.30" r="4.2"/><circle cx="258.01" cy="387.00" r="4.2"/><circle cx="259.36" cy="450.00" r="4.2"/><circle cx="260.70" cy="467.50" r="4.2"/><circle cx="262.04" cy="483.87" r="4.2"/><circle cx="263.39" cy="485.78" r="4.2"/><circle cx="264.73" cy="488.53" r="4.2"/><circle cx="266.08" cy="448.00" r="4.2"/><circle cx="267.42" cy="425.00" r="4.2"/><circle cx="268.77" cy="417.34" r="4.2"/><circle cx="270.11" cy="412.99" r="4.2"/><circle cx="271.45" cy="410.32" r="4.2"/><circle cx="272.80" cy="410.58" r="4.2"/><circle cx="274.14" cy="408.35" r="4.2"/><circle cx="275.49" cy="406.57" r="4.2"/><circle cx="276.83" cy="407.10" r="4.2"/><circle cx="278.18" cy="402.20" r="4.2"/><circle cx="279.52" cy="407.69" r="4.2"/><circle cx="280.86" cy="408.44" r="4.2"/><circle cx="282.21" cy="410.64" r="4.2"/><circle cx="283.55" cy="413.23" r="4.2"/><circle cx="284.90" cy="423.49" r="4.2"/><circle cx="286.24" cy="429.86" r="4.2"/><circle cx="287.59" cy="431.26" r="4.2"/><circle cx="288.93" cy="431.36" r="4.2"/><circle cx="290.27" cy="429.95" r="4.2"/><circle cx="291.62" cy="426.30" r="4.2"/><circle cx="292.96" cy="422.86" r="4.2"/><circle cx="294.31" cy="415.96" r="4.2"/><circle cx="295.65" cy="441.25" r="4.2"/><circle cx="297.00" cy="495.00" r="4.2"/><circle cx="298.34" cy="525.45" r="4.2"/><circle cx="299.68" cy="535.00" r="4.2"/><circle cx="301.03" cy="564.25" r="4.2"/><circle cx="302.37" cy="593.25" r="4.2"/><circle cx="303.72" cy="616.50" r="4.2"/><circle cx="305.06" cy="599.81" r="4.2"/><circle cx="306.41" cy="599.86" r="4.2"/><circle cx="307.75" cy="597.79" r="4.2"/><circle cx="309.09" cy="590.36" r="4.2"/><circle cx="310.44" cy="584.56" r="4.2"/><circle cx="311.78" cy="572.41" r="4.2"/><circle cx="313.13" cy="571.32" r="4.2"/><circle cx="314.47" cy="568.83" r="4.2"/><circle cx="315.82" cy="522.17" r="4.2"/><circle cx="317.16" cy="523.32" r="4.2"/><circle cx="318.50" cy="521.90" r="4.2"/><circle cx="319.85" cy="529.70" r="4.2"/><circle cx="321.19" cy="533.21" r="4.2"/><circle cx="322.54" cy="526.92" r="4.2"/><circle cx="323.88" cy="520.34" r="4.2"/><circle cx="325.23" cy="514.96" r="4.2"/><circle cx="326.57" cy="513.87" r="4.2"/><circle cx="327.91" cy="512.21" r="4.2"/><circle cx="329.26" cy="510.52" r="4.2"/><circle cx="330.60" cy="512.28" r="4.2"/><circle cx="331.95" cy="512.19" r="4.2"/><circle cx="333.29" cy="516.67" r="4.2"/><circle cx="334.64" cy="518.92" r="4.2"/><circle cx="335.98" cy="517.19" r="4.2"/><circle cx="337.32" cy="515.06" r="4.2"/><circle cx="338.67" cy="511.31" r="4.2"/><circle cx="340.01" cy="506.07" r="4.2"/><circle cx="341.36" cy="501.28" r="4.2"/><circle cx="342.70" cy="498.33" r="4.2"/><circle cx="344.05" cy="490.84" r="4.2"/><circle cx="345.39" cy="492.82" r="4.2"/><circle cx="346.73" cy="492.28" r="4.2"/><circle cx="348.08" cy="493.19" r="4.2"/><circle cx="349.42" cy="490.73" r="4.2"/><circle cx="350.77" cy="485.43" r="4.2"/><circle cx="352.11" cy="484.88" r="4.2"/><circle cx="353.46" cy="486.34" r="4.2"/><circle cx="354.80" cy="484.46" r="4.2"/><circle cx="356.14" cy="485.79" r="4.2"/><circle cx="357.49" cy="484.36" r="4.2"/><circle cx="358.83" cy="483.81" r="4.2"/><circle cx="360.18" cy="485.83" r="4.2"/><circle cx="361.52" cy="492.31" r="4.2"/><circle cx="362.87" cy="490.45" r="4.2"/><circle cx="364.21" cy="491.33" r="4.2"/><circle cx="365.56" cy="492.11" r="4.2"/><circle cx="366.90" cy="527.50" r="4.2"/><circle cx="368.24" cy="578.25" r="4.2"/><circle cx="369.59" cy="598.59" r="4.2"/><circle cx="370.93" cy="605.80" r="4.2"/><circle cx="372.28" cy="608.61" r="4.2"/><circle cx="373.62" cy="603.47" r="4.2"/><circle cx="374.97" cy="599.56" r="4.2"/><circle cx="376.31" cy="564.25" r="4.2"/><circle cx="377.65" cy="510.75" r="4.2"/><circle cx="379.00" cy="492.50" r="4.2"/><circle cx="380.34" cy="472.15" r="4.2"/><circle cx="381.69" cy="467.58" r="4.2"/><circle cx="383.03" cy="461.00" r="4.2"/><circle cx="384.38" cy="459.21" r="4.2"/><circle cx="385.72" cy="457.53" r="4.2"/><circle cx="387.06" cy="455.65" r="4.2"/><circle cx="388.41" cy="454.86" r="4.2"/><circle cx="389.75" cy="453.62" r="4.2"/><circle cx="391.10" cy="450.83" r="4.2"/><circle cx="392.44" cy="448.29" r="4.2"/><circle cx="393.79" cy="446.28" r="4.2"/><circle cx="395.13" cy="442.52" r="4.2"/><circle cx="396.47" cy="439.79" r="4.2"/><circle cx="397.82" cy="438.49" r="4.2"/><circle cx="399.16" cy="434.86" r="4.2"/><circle cx="400.51" cy="431.90" r="4.2"/><circle cx="401.85" cy="430.54" r="4.2"/><circle cx="403.20" cy="429.03" r="4.2"/><circle cx="404.54" cy="427.78" r="4.2"/><circle cx="405.88" cy="431.44" r="4.2"/><circle cx="407.23" cy="448.51" r="4.2"/><circle cx="408.57" cy="447.78" r="4.2"/><circle cx="409.92" cy="446.16" r="4.2"/><circle cx="411.26" cy="443.35" r="4.2"/><circle cx="412.61" cy="442.14" r="4.2"/><circle cx="413.95" cy="441.07" r="4.2"/><circle cx="415.29" cy="421.73" r="4.2"/><circle cx="416.64" cy="419.67" r="4.2"/><circle cx="417.98" cy="435.94" r="4.2"/><circle cx="419.33" cy="437.61" r="4.2"/><circle cx="420.67" cy="440.13" r="4.2"/><circle cx="422.02" cy="443.46" r="4.2"/><circle cx="423.36" cy="445.54" r="4.2"/><circle cx="424.70" cy="448.71" r="4.2"/><circle cx="426.05" cy="449.99" r="4.2"/><circle cx="427.39" cy="428.57" r="4.2"/><circle cx="428.74" cy="431.36" r="4.2"/><circle cx="430.08" cy="431.80" r="4.2"/><circle cx="431.43" cy="430.82" r="4.2"/><circle cx="432.77" cy="425.85" r="4.2"/><circle cx="434.11" cy="419.23" r="4.2"/><circle cx="435.46" cy="412.21" r="4.2"/><circle cx="436.80" cy="409.12" r="4.2"/><circle cx="438.15" cy="411.42" r="4.2"/><circle cx="439.49" cy="412.79" r="4.2"/><circle cx="440.84" cy="416.81" r="4.2"/><circle cx="442.18" cy="418.23" r="4.2"/><circle cx="443.52" cy="417.23" r="4.2"/><circle cx="444.87" cy="419.68" r="4.2"/><circle cx="446.21" cy="415.27" r="4.2"/><circle cx="447.56" cy="411.75" r="4.2"/><circle cx="448.90" cy="409.49" r="4.2"/><circle cx="450.25" cy="409.75" r="4.2"/><circle cx="451.59" cy="412.32" r="4.2"/><circle cx="452.93" cy="410.46" r="4.2"/><circle cx="454.28" cy="410.49" r="4.2"/><circle cx="455.62" cy="415.37" r="4.2"/><circle cx="456.97" cy="416.54" r="4.2"/><circle cx="458.31" cy="417.85" r="4.2"/><circle cx="459.66" cy="421.97" r="4.2"/><circle cx="461.00" cy="420.30" r="4.2"/><circle cx="462.34" cy="421.43" r="4.2"/><circle cx="463.69" cy="422.38" r="4.2"/><circle cx="465.03" cy="421.27" r="4.2"/><circle cx="466.38" cy="419.46" r="4.2"/><circle cx="467.72" cy="397.89" r="4.2"/><circle cx="469.07" cy="399.30" r="4.2"/><circle cx="470.41" cy="402.98" r="4.2"/><circle cx="471.75" cy="409.54" r="4.2"/><circle cx="473.10" cy="410.64" r="4.2"/><circle cx="474.44" cy="408.97" r="4.2"/><circle cx="475.79" cy="403.41" r="4.2"/><circle cx="477.13" cy="399.08" r="4.2"/><circle cx="478.48" cy="399.08" r="4.2"/><circle cx="479.82" cy="398.27" r="4.2"/><circle cx="481.16" cy="396.36" r="4.2"/><circle cx="482.51" cy="399.38" r="4.2"/><circle cx="483.85" cy="402.92" r="4.2"/><circle cx="485.20" cy="406.13" r="4.2"/><circle cx="486.54" cy="407.78" r="4.2"/><circle cx="487.89" cy="410.31" r="4.2"/><circle cx="489.23" cy="406.23" r="4.2"/><circle cx="490.57" cy="401.56" r="4.2"/><circle cx="491.92" cy="398.06" r="4.2"/><circle cx="493.26" cy="395.47" r="4.2"/><circle cx="494.61" cy="395.16" r="4.2"/><circle cx="495.95" cy="398.34" r="4.2"/><circle cx="497.30" cy="400.90" r="4.2"/><circle cx="498.64" cy="400.68" r="4.2"/><circle cx="499.99" cy="404.06" r="4.2"/><circle cx="501.33" cy="405.59" r="4.2"/><circle cx="502.67" cy="406.87" r="4.2"/><circle cx="504.02" cy="406.54" r="4.2"/><circle cx="505.36" cy="407.81" r="4.2"/><circle cx="506.71" cy="409.02" r="4.2"/><circle cx="508.05" cy="440.16" r="4.2"/><circle cx="509.40" cy="443.11" r="4.2"/><circle cx="510.74" cy="447.51" r="4.2"/><circle cx="512.08" cy="450.08" r="4.2"/><circle cx="513.43" cy="451.45" r="4.2"/><circle cx="514.77" cy="453.59" r="4.2"/><circle cx="516.12" cy="458.25" r="4.2"/><circle cx="517.46" cy="431.90" r="4.2"/><circle cx="518.81" cy="437.34" r="4.2"/><circle cx="520.15" cy="441.55" r="4.2"/><circle cx="521.49" cy="444.58" r="4.2"/><circle cx="522.84" cy="446.17" r="4.2"/><circle cx="524.18" cy="448.07" r="4.2"/><circle cx="525.53" cy="443.61" r="4.2"/><circle cx="526.87" cy="437.38" r="4.2"/><circle cx="528.22" cy="433.71" r="4.2"/><circle cx="529.56" cy="425.41" r="4.2"/><circle cx="530.90" cy="421.46" r="4.2"/><circle cx="532.25" cy="419.80" r="4.2"/><circle cx="533.59" cy="426.68" r="4.2"/><circle cx="534.94" cy="429.93" r="4.2"/><circle cx="536.28" cy="434.37" r="4.2"/><circle cx="537.63" cy="436.02" r="4.2"/><circle cx="538.97" cy="436.26" r="4.2"/><circle cx="540.31" cy="438.35" r="4.2"/><circle cx="541.66" cy="439.99" r="4.2"/><circle cx="543.00" cy="428.36" r="4.2"/><circle cx="544.35" cy="422.07" r="4.2"/><circle cx="545.69" cy="413.67" r="4.2"/><circle cx="547.04" cy="415.23" r="4.2"/><circle cx="548.38" cy="414.90" r="4.2"/><circle cx="549.72" cy="414.75" r="4.2"/><circle cx="551.07" cy="416.82" r="4.2"/><circle cx="552.41" cy="413.54" r="4.2"/><circle cx="553.76" cy="408.07" r="4.2"/><circle cx="555.10" cy="447.35" r="4.2"/><circle cx="556.45" cy="455.13" r="4.2"/><circle cx="557.79" cy="463.57" r="4.2"/><circle cx="559.13" cy="465.81" r="4.2"/><circle cx="560.48" cy="471.45" r="4.2"/><circle cx="561.82" cy="475.63" r="4.2"/><circle cx="563.17" cy="483.76" r="4.2"/><circle cx="564.51" cy="456.95" r="4.2"/><circle cx="565.86" cy="448.23" r="4.2"/><circle cx="567.20" cy="442.04" r="4.2"/><circle cx="568.54" cy="434.45" r="4.2"/><circle cx="569.89" cy="430.57" r="4.2"/><circle cx="571.23" cy="430.73" r="4.2"/><circle cx="572.58" cy="428.71" r="4.2"/><circle cx="573.92" cy="432.29" r="4.2"/><circle cx="575.27" cy="434.34" r="4.2"/><circle cx="576.61" cy="440.50" r="4.2"/><circle cx="577.95" cy="441.03" r="4.2"/><circle cx="579.30" cy="442.30" r="4.2"/><circle cx="580.64" cy="443.65" r="4.2"/><circle cx="581.99" cy="444.22" r="4.2"/><circle cx="583.33" cy="440.69" r="4.2"/><circle cx="584.68" cy="440.69" r="4.2"/><circle cx="586.02" cy="438.62" r="4.2"/><circle cx="587.36" cy="438.56" r="4.2"/><circle cx="588.71" cy="438.35" r="4.2"/><circle cx="590.05" cy="436.43" r="4.2"/><circle cx="591.40" cy="439.65" r="4.2"/><circle cx="592.74" cy="439.71" r="4.2"/><circle cx="594.09" cy="436.82" r="4.2"/><circle cx="595.43" cy="437.44" r="4.2"/><circle cx="596.77" cy="433.20" r="4.2"/><circle cx="598.12" cy="432.71" r="4.2"/><circle cx="599.46" cy="432.04" r="4.2"/><circle cx="600.81" cy="430.40" r="4.2"/><circle cx="602.15" cy="428.91" r="4.2"/><circle cx="603.50" cy="428.94" r="4.2"/><circle cx="604.84" cy="429.87" r="4.2"/><circle cx="606.18" cy="431.82" r="4.2"/><circle cx="607.53" cy="430.58" r="4.2"/><circle cx="608.87" cy="436.57" r="4.2"/><circle cx="610.22" cy="439.04" r="4.2"/><circle cx="611.56" cy="438.81" r="4.2"/><circle cx="612.91" cy="440.25" r="4.2"/><circle cx="614.25" cy="438.97" r="4.2"/><circle cx="615.59" cy="440.16" r="4.2"/><circle cx="616.94" cy="443.56" r="4.2"/><circle cx="618.28" cy="446.80" r="4.2"/><circle cx="619.63" cy="446.05" r="4.2"/><circle cx="620.97" cy="446.90" r="4.2"/><circle cx="622.32" cy="446.85" r="4.2"/><circle cx="623.66" cy="447.21" r="4.2"/><circle cx="625.00" cy="448.19" r="4.2"/><circle cx="626.35" cy="445.98" r="4.2"/><circle cx="627.69" cy="445.12" r="4.2"/><circle cx="629.04" cy="464.42" r="4.2"/><circle cx="630.38" cy="467.50" r="4.2"/><circle cx="631.73" cy="471.61" r="4.2"/><circle cx="633.07" cy="473.08" r="4.2"/><circle cx="634.42" cy="468.54" r="4.2"/><circle cx="635.76" cy="461.31" r="4.2"/><circle cx="637.10" cy="457.62" r="4.2"/><circle cx="638.45" cy="477.00" r="4.2"/><circle cx="639.79" cy="469.05" r="4.2"/><circle cx="641.14" cy="465.15" r="4.2"/><circle cx="642.48" cy="465.63" r="4.2"/><circle cx="643.83" cy="467.32" r="4.2"/><circle cx="645.17" cy="466.73" r="4.2"/><circle cx="646.51" cy="469.07" r="4.2"/><circle cx="647.86" cy="468.46" r="4.2"/><circle cx="649.20" cy="429.36" r="4.2"/><circle cx="650.55" cy="430.87" r="4.2"/><circle cx="651.89" cy="433.96" r="4.2"/><circle cx="653.24" cy="433.98" r="4.2"/><circle cx="654.58" cy="439.93" r="4.2"/><circle cx="655.92" cy="444.44" r="4.2"/><circle cx="657.27" cy="445.75" r="4.2"/><circle cx="658.61" cy="451.10" r="4.2"/><circle cx="659.96" cy="448.67" r="4.2"/><circle cx="661.30" cy="442.56" r="4.2"/><circle cx="662.65" cy="440.50" r="4.2"/><circle cx="663.99" cy="432.57" r="4.2"/><circle cx="665.33" cy="421.44" r="4.2"/><circle cx="666.68" cy="414.44" r="4.2"/><circle cx="668.02" cy="410.52" r="4.2"/><circle cx="669.37" cy="405.51" r="4.2"/><circle cx="670.71" cy="404.80" r="4.2"/><circle cx="672.06" cy="403.42" r="4.2"/><circle cx="673.40" cy="401.11" r="4.2"/><circle cx="674.74" cy="402.64" r="4.2"/><circle cx="676.09" cy="406.44" r="4.2"/><circle cx="677.43" cy="413.03" r="4.2"/><circle cx="678.78" cy="415.82" r="4.2"/><circle cx="680.12" cy="420.44" r="4.2"/><circle cx="681.47" cy="422.72" r="4.2"/><circle cx="682.81" cy="422.85" r="4.2"/><circle cx="684.15" cy="422.19" r="4.2"/><circle cx="685.50" cy="421.45" r="4.2"/><circle cx="686.84" cy="419.06" r="4.2"/><circle cx="688.19" cy="415.20" r="4.2"/><circle cx="689.53" cy="416.28" r="4.2"/><circle cx="690.88" cy="415.08" r="4.2"/><circle cx="692.22" cy="416.19" r="4.2"/><circle cx="693.56" cy="413.52" r="4.2"/><circle cx="694.91" cy="410.45" r="4.2"/><circle cx="696.25" cy="405.34" r="4.2"/><circle cx="697.60" cy="407.65" r="4.2"/><circle cx="698.94" cy="405.46" r="4.2"/><circle cx="700.29" cy="404.67" r="4.2"/><circle cx="701.63" cy="405.72" r="4.2"/><circle cx="702.97" cy="407.48" r="4.2"/><circle cx="704.32" cy="407.15" r="4.2"/><circle cx="705.66" cy="405.66" r="4.2"/><circle cx="707.01" cy="406.34" r="4.2"/><circle cx="708.35" cy="410.19" r="4.2"/><circle cx="709.70" cy="411.05" r="4.2"/><circle cx="711.04" cy="414.07" r="4.2"/><circle cx="712.38" cy="417.94" r="4.2"/><circle cx="713.73" cy="417.18" r="4.2"/><circle cx="715.07" cy="418.10" r="4.2"/><circle cx="716.42" cy="415.94" r="4.2"/><circle cx="717.76" cy="414.33" r="4.2"/><circle cx="719.11" cy="417.11" r="4.2"/><circle cx="720.45" cy="415.68" r="4.2"/><circle cx="721.79" cy="417.18" r="4.2"/><circle cx="723.14" cy="417.28" r="4.2"/><circle cx="724.48" cy="420.79" r="4.2"/><circle cx="725.83" cy="417.05" r="4.2"/><circle cx="727.17" cy="419.02" r="4.2"/><circle cx="728.52" cy="427.49" r="4.2"/><circle cx="729.86" cy="430.16" r="4.2"/><circle cx="731.20" cy="431.83" r="4.2"/><circle cx="732.55" cy="434.09" r="4.2"/><circle cx="733.89" cy="433.06" r="4.2"/><circle cx="735.24" cy="433.90" r="4.2"/><circle cx="736.58" cy="432.70" r="4.2"/><circle cx="737.93" cy="420.99" r="4.2"/><circle cx="739.27" cy="418.73" r="4.2"/><circle cx="740.61" cy="417.13" r="4.2"/><circle cx="741.96" cy="417.65" r="4.2"/><circle cx="743.30" cy="421.56" r="4.2"/><circle cx="744.65" cy="427.56" r="4.2"/><circle cx="745.99" cy="429.30" r="4.2"/><circle cx="747.34" cy="475.00" r="4.2"/><circle cx="748.68" cy="509.74" r="4.2"/><circle cx="750.02" cy="515.98" r="4.2"/><circle cx="751.37" cy="519.73" r="4.2"/><circle cx="752.71" cy="516.31" r="4.2"/><circle cx="754.06" cy="510.83" r="4.2"/><circle cx="755.40" cy="506.48" r="4.2"/><circle cx="756.75" cy="464.25" r="4.2"/><circle cx="758.09" cy="425.02" r="4.2"/><circle cx="759.44" cy="419.66" r="4.2"/><circle cx="760.78" cy="417.94" r="4.2"/><circle cx="762.12" cy="421.66" r="4.2"/><circle cx="763.47" cy="425.68" r="4.2"/><circle cx="764.81" cy="424.94" r="4.2"/><circle cx="766.16" cy="429.74" r="4.2"/><circle cx="767.50" cy="429.59" r="4.2"/><circle cx="768.85" cy="431.00" r="4.2"/><circle cx="770.19" cy="432.00" r="4.2"/><circle cx="771.53" cy="432.00" r="4.2"/><circle cx="772.88" cy="432.00" r="4.2"/><circle cx="774.22" cy="432.00" r="4.2"/><circle cx="775.57" cy="432.00" r="4.2"/><circle cx="776.91" cy="432.00" r="4.2"/><circle cx="778.26" cy="432.00" r="4.2"/><circle cx="779.60" cy="432.00" r="4.2"/><circle cx="780.94" cy="432.00" r="4.2"/><circle cx="782.29" cy="432.00" r="4.2"/><circle cx="783.63" cy="432.00" r="4.2"/><circle cx="784.98" cy="432.00" r="4.2"/><circle cx="786.32" cy="432.00" r="4.2"/><circle cx="787.67" cy="432.00" r="4.2"/><circle cx="789.01" cy="432.00" r="4.2"/><circle cx="790.35" cy="432.00" r="4.2"/><circle cx="791.70" cy="432.00" r="4.2"/><circle cx="793.04" cy="432.00" r="4.2"/><circle cx="794.39" cy="432.00" r="4.2"/><circle cx="795.73" cy="432.00" r="4.2"/><circle cx="797.08" cy="432.00" r="4.2"/><circle cx="798.42" cy="432.00" r="4.2"/><circle cx="799.76" cy="432.00" r="4.2"/><circle cx="801.11" cy="432.00" r="4.2"/><circle cx="802.45" cy="432.00" r="4.2"/><circle cx="803.80" cy="432.00" r="4.2"/><circle cx="805.14" cy="432.00" r="4.2"/><circle cx="806.49" cy="432.00" r="4.2"/><circle cx="807.83" cy="432.00" r="4.2"/><circle cx="809.17" cy="432.00" r="4.2"/><circle cx="810.52" cy="432.00" r="4.2"/><circle cx="811.86" cy="432.00" r="4.2"/><circle cx="813.21" cy="432.00" r="4.2"/><circle cx="814.55" cy="432.00" r="4.2"/><circle cx="815.90" cy="432.00" r="4.2"/><circle cx="817.24" cy="432.00" r="4.2"/><circle cx="818.58" cy="432.00" r="4.2"/><circle cx="819.93" cy="432.00" r="4.2"/><circle cx="821.27" cy="432.00" r="4.2"/><circle cx="822.62" cy="432.00" r="4.2"/><circle cx="823.96" cy="432.00" r="4.2"/><circle cx="825.31" cy="432.00" r="4.2"/><circle cx="826.65" cy="432.00" r="4.2"/><circle cx="827.99" cy="432.00" r="4.2"/><circle cx="829.34" cy="432.00" r="4.2"/><circle cx="830.68" cy="432.00" r="4.2"/></g>
<rect x="120" y="86" width="744" height="555" fill="none" stroke="#000" stroke-width="2" shape-rendering="crispEdges"/>
<line x1="113" x2="120" y1="598" y2="598" stroke="#000" stroke-width="2" shape-rendering="crispEdges"/>
<text x="105" y="605.3" text-anchor="end" fill="#f00" textLength="34.2" lengthAdjust="spacingAndGlyphs">0.85</text>
<line x1="113" x2="120" y1="513" y2="513" stroke="#000" stroke-width="2" shape-rendering="crispEdges"/>
<text x="105" y="520.2" text-anchor="end" fill="#f00" textLength="34.2" lengthAdjust="spacingAndGlyphs">0.90</text>
<line x1="113" x2="120" y1="428" y2="428" stroke="#000" stroke-width="2" shape-rendering="crispEdges"/>
<text x="105" y="435.1" text-anchor="end" fill="#f00" textLength="34.2" lengthAdjust="spacingAndGlyphs">0.95</text>
<line x1="113" x2="120" y1="342" y2="342" stroke="#000" stroke-width="2" shape-rendering="crispEdges"/>
<text x="105" y="350.0" text-anchor="end" fill="#f00" textLength="34.2" lengthAdjust="spacingAndGlyphs">1.00</text>
<line x1="113" x2="120" y1="257" y2="257" stroke="#000" stroke-width="2" shape-rendering="crispEdges"/>
<text x="105" y="264.9" text-anchor="end" fill="#f00" textLength="34.2" lengthAdjust="spacingAndGlyphs">1.05</text>
<line x1="113" x2="120" y1="172" y2="172" stroke="#000" stroke-width="2" shape-rendering="crispEdges"/>
<text x="105" y="179.8" text-anchor="end" fill="#f00" textLength="34.2" lengthAdjust="spacingAndGlyphs">1.10</text>
<line x1="113" x2="120" y1="87" y2="87" stroke="#000" stroke-width="2" shape-rendering="crispEdges"/>
<text x="105" y="94.7" text-anchor="end" fill="#f00" textLength="34.2" lengthAdjust="spacingAndGlyphs">1.15</text>
<line x1="864" x2="871" y1="570" y2="570" stroke="#000" stroke-width="2" shape-rendering="crispEdges"/>
<text x="879.7" y="577.1" text-anchor="start" fill="#000" textLength="19.2" lengthAdjust="spacingAndGlyphs">88</text>
<line x1="864" x2="871" y1="490" y2="490" stroke="#000" stroke-width="2" shape-rendering="crispEdges"/>
<text x="879.7" y="496.9" text-anchor="start" fill="#000" textLength="19.2" lengthAdjust="spacingAndGlyphs">90</text>
<line x1="864" x2="871" y1="410" y2="410" stroke="#000" stroke-width="2" shape-rendering="crispEdges"/>
<text x="879.7" y="416.7" text-anchor="start" fill="#000" textLength="19.2" lengthAdjust="spacingAndGlyphs">92</text>
<line x1="864" x2="871" y1="329" y2="329" stroke="#000" stroke-width="2" shape-rendering="crispEdges"/>
<text x="879.7" y="336.5" text-anchor="start" fill="#000" textLength="19.2" lengthAdjust="spacingAndGlyphs">94</text>
<line x1="864" x2="871" y1="249" y2="249" stroke="#000" stroke-width="2" shape-rendering="crispEdges"/>
<text x="879.7" y="256.3" text-anchor="start" fill="#000" textLength="19.2" lengthAdjust="spacingAndGlyphs">96</text>
<line x1="864" x2="871" y1="169" y2="169" stroke="#000" stroke-width="2" shape-rendering="crispEdges"/>
<text x="879.7" y="176.1" text-anchor="start" fill="#000" textLength="19.2" lengthAdjust="spacingAndGlyphs">98</text>
<line x1="864" x2="871" y1="89" y2="89" stroke="#000" stroke-width="2" shape-rendering="crispEdges"/>
<text x="879.7" y="95.9" text-anchor="start" fill="#000" textLength="28.8" lengthAdjust="spacingAndGlyphs">100</text>
<line x1="190" x2="190" y1="641" y2="648" stroke="#000" stroke-width="2" shape-rendering="crispEdges"/>
<text x="189.5" y="669.9" text-anchor="middle" fill="#000">2020-11</text>
<line x1="272" x2="272" y1="641" y2="648" stroke="#000" stroke-width="2" shape-rendering="crispEdges"/>
<text x="271.5" y="669.9" text-anchor="middle" fill="#000">2021-01</text>
<line x1="351" x2="351" y1="641" y2="648" stroke="#000" stroke-width="2" shape-rendering="crispEdges"/>
<text x="350.5" y="669.9" text-anchor="middle" fill="#000">2021-03</text>
<line x1="434" x2="434" y1="641" y2="648" stroke="#000" stroke-width="2" shape-rendering="crispEdges"/>
<text x="433.5" y="669.9" text-anchor="middle" fill="#000">2021-05</text>
<line x1="516" x2="516" y1="641" y2="648" stroke="#000" stroke-width="2" shape-rendering="crispEdges"/>
<text x="515.5" y="669.9" text-anchor="middle" fill="#000">2021-07</text>
<line x1="599" x2="599" y1="641" y2="648" stroke="#000" stroke-width="2" shape-rendering="crispEdges"/>
<text x="598.5" y="669.9" text-anchor="middle" fill="#000">2021-09</text>
<line x1="681" x2="681" y1="641" y2="648" stroke="#000" stroke-width="2" shape-rendering="crispEdges"/>
<text x="680.5" y="669.9" text-anchor="middle" fill="#000">2021-11</text>
<line x1="763" x2="763" y1="641" y2="648" stroke="#000" stroke-width="2" shape-rendering="crispEdges"/>
<text x="762.5" y="669.9" text-anchor="middle" fill="#000">2022-01</text>
<line x1="842" x2="842" y1="641" y2="648" stroke="#000" stroke-width="2" shape-rendering="crispEdges"/>
<text x="841.5" y="669.9" text-anchor="middle" fill="#000">2022-03</text>
<text x="492" y="699" text-anchor="middle" fill="#000" textLength="37.3" lengthAdjust="spacing">Date</text>
<text transform="translate(54.3,364) rotate(-90)" text-anchor="middle" fill="#f00" style="font-size:20.83px" textLength="283.5" lengthAdjust="spacing">Reproductive Number R_d, Daily</text>
<text transform="translate(932,363.8) rotate(-90)" text-anchor="middle" fill="#000" style="font-size:20.83px" textLength="237.3" lengthAdjust="spacing">Encounter Density, Adjusted</text>
<rect x="448.2" y="97" width="88" height="35.3" rx="4" fill="#fff" fill-opacity="0.8" stroke="#ccc" stroke-width="1.8"/>
<circle cx="477.4" cy="113.3" r="4.2" fill="#f00"/>
<text x="515.5" y="119.7" fill="#000" style="font-size:20.83px">R</text>
<rect x="627" y="97" width="227" height="35.3" rx="4" fill="#fff" fill-opacity="0.8" stroke="#ccc" stroke-width="1.8"/>
<circle cx="657" cy="113.3" r="4.2" fill="#000"/>
<text x="693" y="119.7" fill="#000" style="font-size:20.83px" textLength="151" lengthAdjust="spacing">D, shifted 25 days</text>
</svg></body></html>
